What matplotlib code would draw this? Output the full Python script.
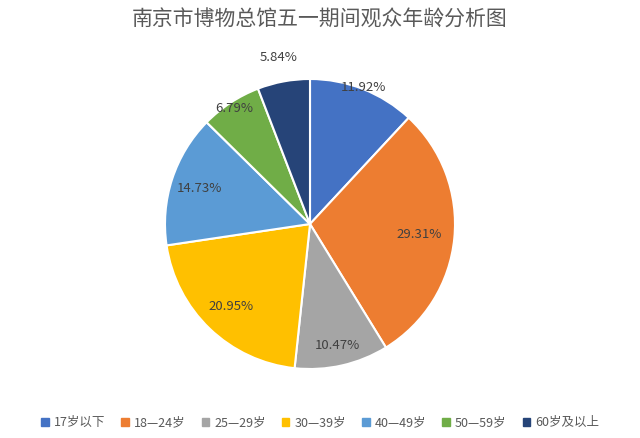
import numpy as np
import matplotlib
matplotlib.use("Agg")
import matplotlib.pyplot as plt

plt.rcParams['font.family'] = ['Noto Sans CJK SC', 'DejaVu Sans']

labels = ['17岁以下', '18—24岁', '25—29岁', '30—39岁', '40—49岁', '50—59岁', '60岁及以上']
values = [11.92, 29.31, 10.47, 20.95, 14.73, 6.79, 5.84]
colors = ['#4472C4', '#ED7D31', '#A5A5A5', '#FFC000', '#5B9BD5', '#70AD47', '#264478']
label_r = [1.01, 0.76, 0.86, 0.79, 0.8, 0.95, 1.17]

fig = plt.figure(figsize=(6.4, 4.38), dpi=100)
ax = fig.add_axes([(310 - 145) / 640, (438 - 369) / 438, 290 / 640, 290 / 438])
wedges, _ = ax.pie(values, colors=colors, startangle=90, counterclock=False,
                   wedgeprops=dict(edgecolor='white', linewidth=1.5))
ax.set_aspect('equal')
ax.set_xlim(-1, 1)
ax.set_ylim(-1, 1)

for w, v, r in zip(wedges, values, label_r):
    ang = np.deg2rad((w.theta1 + w.theta2) / 2)
    ax.text(r * np.cos(ang), r * np.sin(ang), '{:.2f}%'.format(v),
            ha='center', va='center', fontsize=9.5, color='#404040', clip_on=False)

fig.text(0.5, 0.955, '南京市博物总馆五一期间观众年龄分析图', ha='center', va='center',
         fontsize=15, color='#595959')

handles = [plt.Rectangle((0, 0), 1, 1, color=c) for c in colors]
fig.legend(handles, labels, loc='center', bbox_to_anchor=(0.5, 0.035), ncol=7,
           frameon=False, fontsize=9, handlelength=0.6, handleheight=0.6,
           handletextpad=0.4, columnspacing=1.3, labelcolor='#595959')

fig.savefig('out.png', dpi=100)
